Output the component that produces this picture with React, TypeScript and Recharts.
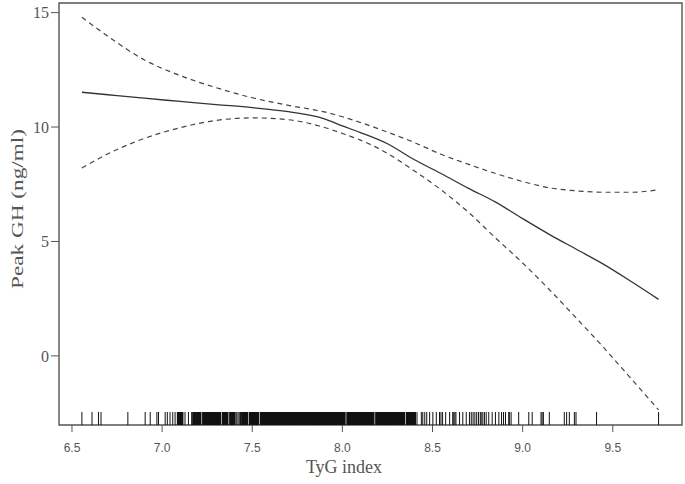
import {
  ComposedChart,
  Line,
  Scatter,
  XAxis,
  YAxis,
  ReferenceArea,
  Label,
} from "recharts";

// smooth curve points
const tygIndex = [6.555, 6.7, 6.9, 7.1, 7.3, 7.5, 7.7, 7.9, 8.0, 8.1, 8.25, 8.4, 8.55, 8.7, 8.85, 9.0, 9.15, 9.3, 9.45, 9.6, 9.754];
const fitGH = [11.52, 11.41, 11.26, 11.12, 10.98, 10.85, 10.67, 10.36, 10.05, 9.76, 9.27, 8.57, 7.96, 7.32, 6.72, 6.0, 5.3, 4.65, 4.0, 3.26, 2.47];
const upperCI = [14.8, 13.96, 12.94, 12.25, 11.72, 11.28, 10.95, 10.66, 10.45, 10.2, 9.78, 9.32, 8.8, 8.37, 7.97, 7.62, 7.34, 7.21, 7.15, 7.15, 7.26];
const lowerCI = [8.21, 8.83, 9.5, 9.97, 10.29, 10.4, 10.32, 9.98, 9.72, 9.43, 8.85, 8.08, 7.24, 6.27, 5.15, 4.06, 2.88, 1.63, 0.36, -0.98, -2.36];

// rug of observed TyG values (single ticks and the crowded middle)
const rugSparse = [
  6.555, 6.611, 6.647, 6.661, 6.81, 6.906, 6.934, 6.971, 6.98, 7.017, 7.029, 7.044, 7.059, 7.072,
  7.127, 7.146, 7.164, 7.414, 7.421, 7.428, 7.435, 7.441,
  8.414, 8.438, 8.446, 8.457, 8.468, 8.484, 8.502, 8.521, 8.539, 8.547, 8.556, 8.573, 8.595,
  8.612, 8.618, 8.624, 8.63, 8.65, 8.668, 8.687, 8.705, 8.715, 8.725, 8.735, 8.745, 8.755, 8.765,
  8.77, 8.779, 8.788, 8.798, 8.812, 8.831, 8.849, 8.868, 8.883, 8.894, 8.905, 8.923, 8.926, 8.936,
  8.978, 9.034, 9.053, 9.102, 9.108, 9.115, 9.148, 9.231, 9.244, 9.259, 9.287, 9.296, 9.41, 9.754,
];
const rugDense = [
  7.09, 7.1, 7.11, 7.175, 7.185, 7.2, 7.21,
  7.23, 7.24, 7.25, 7.26, 7.27, 7.28, 7.29, 7.3, 7.31, 7.32, 7.34, 7.35, 7.36, 7.38, 7.39, 7.4,
  7.45, 7.46, 7.47, 7.49, 7.5, 7.51, 7.52, 7.53,
  7.55, 7.56, 7.57, 7.58, 7.59, 7.6, 7.61, 7.62, 7.63, 7.64, 7.65, 7.66, 7.67, 7.68, 7.69, 7.7,
  7.71, 7.72, 7.73, 7.74, 7.75, 7.76, 7.77, 7.78, 7.79, 7.8, 7.81, 7.82, 7.83, 7.84, 7.85, 7.86,
  7.87, 7.88, 7.89, 7.9, 7.91, 7.92, 7.93, 7.94, 7.95, 7.96, 7.97, 7.98, 7.99, 8.0, 8.01,
  8.03, 8.04, 8.05, 8.06, 8.07, 8.08, 8.09, 8.1, 8.11, 8.12, 8.13, 8.14, 8.15, 8.16, 8.17,
  8.19, 8.2, 8.21, 8.22, 8.23, 8.24, 8.25, 8.26, 8.27, 8.28, 8.29, 8.3, 8.31, 8.32, 8.33, 8.34,
  8.36, 8.37, 8.38, 8.39, 8.4,
];

const xTicks = [6.5, 7.0, 7.5, 8.0, 8.5, 9.0, 9.5];
const yTicks = [0, 5, 10, 15];
const xDomain: [number, number] = [6.428, 9.884];
const yDomain: [number, number] = [-3.02, 15.42];

const curveData = tygIndex.map((x, i) => ({
  x,
  fit: fitGH[i],
  upper: upperCI[i],
  lower: lowerCI[i],
}));
const sparseData = rugSparse.map((x) => ({ x, y: yDomain[0] }));
const denseData = rugDense.map((x) => ({ x, y: yDomain[0] }));

const rugTick = (width: number) => (props: any) => (
  <line
    x1={props.cx}
    x2={props.cx}
    y1={props.cy}
    y2={props.cy - 13}
    stroke="#111"
    strokeWidth={width}
  />
);

const serif = "'Liberation Serif', 'Times New Roman', serif";

export default function App() {
  return (
    <div style={{ position: "absolute", left: 0, top: 0, background: "#fff" }}>
      <ComposedChart
        width={685}
        height={484}
        data={curveData}
        margin={{ top: 3, right: 3, left: 0, bottom: 0 }}
      >
        <XAxis
          dataKey="x"
          type="number"
          domain={xDomain}
          ticks={xTicks}
          allowDataOverflow
          height={59}
          axisLine={false}
          tickSize={7}
          tickMargin={11}
          tickLine={{ stroke: "#555" }}
          tickFormatter={(v: number) => v.toFixed(1)}
          tick={{ fontFamily: "'Liberation Sans', Arial, sans-serif", fontSize: 12, fill: "#555" }}
        >
          <Label
            content={() => (
              <text x={344} y={473} textAnchor="middle" fontFamily={serif} fontSize={18} fill="#555">
                TyG index
              </text>
            )}
          />
        </XAxis>
        <YAxis
          type="number"
          domain={yDomain}
          ticks={yTicks}
          allowDataOverflow
          width={59}
          axisLine={false}
          tickSize={8}
          tickMargin={2}
          tickLine={{ stroke: "#555" }}
          tick={{ fontFamily: serif, fontSize: 16, fill: "#555" }}
        >
          <Label
            content={() => (
              <text
                x={23}
                y={209}
                textAnchor="middle"
                transform="rotate(-90, 23, 209)"
                fontFamily={serif}
                fontSize={17}
                textLength={160}
                lengthAdjust="spacingAndGlyphs"
                fill="#555"
              >
                Peak GH (ng/ml)
              </text>
            )}
          />
        </YAxis>
        <Scatter data={sparseData} dataKey="y" shape={rugTick(1)} isAnimationActive={false} />
        <Scatter data={denseData} dataKey="y" shape={rugTick(3)} isAnimationActive={false} />
        <Line type="monotone" dataKey="upper" stroke="#444" strokeWidth={1.2} strokeDasharray="5 4" dot={false} isAnimationActive={false} />
        <Line type="monotone" dataKey="lower" stroke="#444" strokeWidth={1.2} strokeDasharray="5 4" dot={false} isAnimationActive={false} />
        <Line type="monotone" dataKey="fit" stroke="#333" strokeWidth={1.3} dot={false} isAnimationActive={false} />
        <ReferenceArea
          x1={xDomain[0]}
          x2={xDomain[1]}
          y1={yDomain[0]}
          y2={yDomain[1]}
          fill="none"
          stroke="#555"
          strokeWidth={1.4}
          ifOverflow="visible"
        />
      </ComposedChart>
    </div>
  );
}
